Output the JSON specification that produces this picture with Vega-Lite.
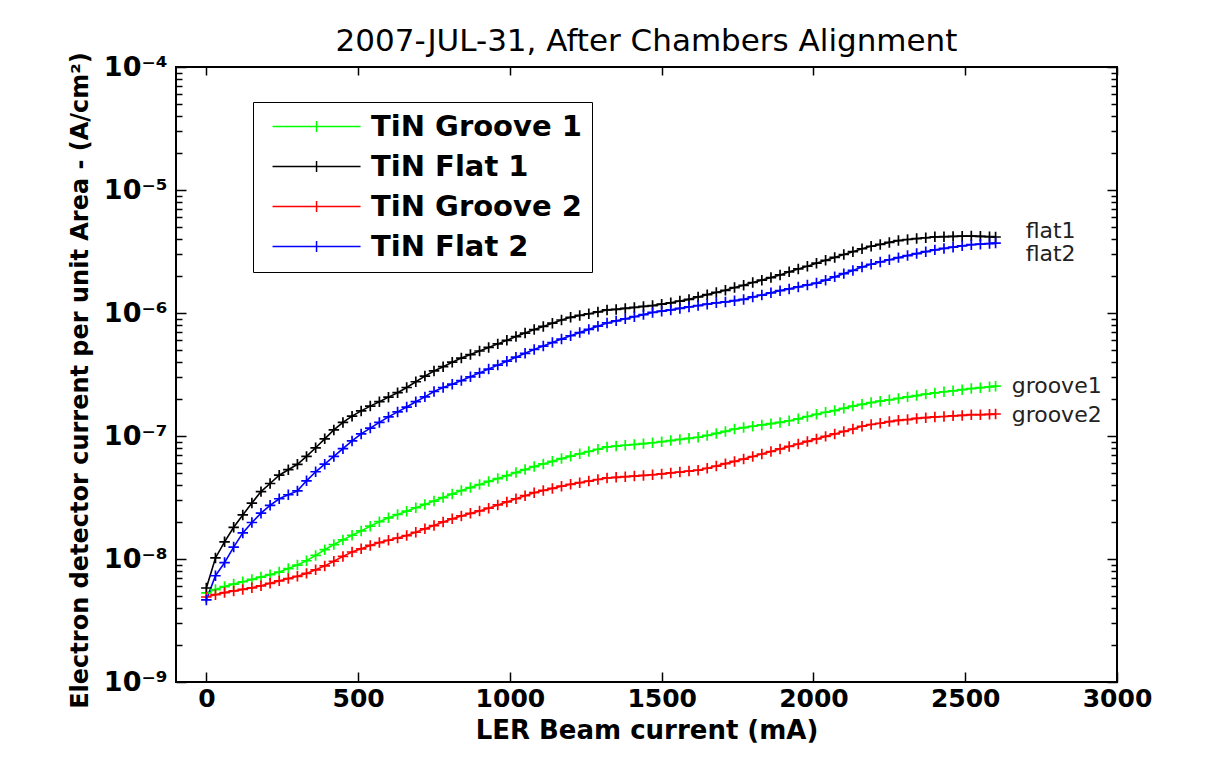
{
  "$schema": "https://vega.github.io/schema/vega-lite/v6.json",
  "width": 941,
  "height": 615,
  "autosize": {"type": "none"},
  "padding": {"left": 176, "top": 67, "right": 114, "bottom": 75},
  "background": "white",
  "title": {
    "text": "2007-JUL-31, After Chambers Alignment",
    "font": "DejaVu Sans",
    "fontSize": 31,
    "fontWeight": "normal",
    "color": "black",
    "anchor": "middle",
    "offset": -6
  },
  "datasets": {
    "curves": [
      {"x": 0, "g1": 5.30e-9, "f1": 5.81e-9, "g2": 4.91e-9, "f2": 4.65e-9},
      {"x": 30, "g1": 5.64e-9, "f1": 1.02e-8, "g2": 5.13e-9, "f2": 7.31e-9},
      {"x": 60, "g1": 5.97e-9, "f1": 1.38e-8, "g2": 5.33e-9, "f2": 9.35e-9},
      {"x": 90, "g1": 6.25e-9, "f1": 1.81e-8, "g2": 5.50e-9, "f2": 1.25e-8},
      {"x": 120, "g1": 6.53e-9, "f1": 2.28e-8, "g2": 5.66e-9, "f2": 1.63e-8},
      {"x": 150, "g1": 6.82e-9, "f1": 2.85e-8, "g2": 5.83e-9, "f2": 1.98e-8},
      {"x": 180, "g1": 7.13e-9, "f1": 3.53e-8, "g2": 6.05e-9, "f2": 2.36e-8},
      {"x": 210, "g1": 7.46e-9, "f1": 4.11e-8, "g2": 6.34e-9, "f2": 2.73e-8},
      {"x": 240, "g1": 7.83e-9, "f1": 4.80e-8, "g2": 6.64e-9, "f2": 3.09e-8},
      {"x": 270, "g1": 8.36e-9, "f1": 5.32e-8, "g2": 6.93e-9, "f2": 3.33e-8},
      {"x": 300, "g1": 8.93e-9, "f1": 5.89e-8, "g2": 7.23e-9, "f2": 3.58e-8},
      {"x": 330, "g1": 9.68e-9, "f1": 6.82e-8, "g2": 7.64e-9, "f2": 4.32e-8},
      {"x": 360, "g1": 1.07e-8, "f1": 8.02e-8, "g2": 8.17e-9, "f2": 5.12e-8},
      {"x": 390, "g1": 1.19e-8, "f1": 9.48e-8, "g2": 8.79e-9, "f2": 5.90e-8},
      {"x": 420, "g1": 1.31e-8, "f1": 1.12e-7, "g2": 9.59e-9, "f2": 6.82e-8},
      {"x": 450, "g1": 1.43e-8, "f1": 1.29e-7, "g2": 1.05e-8, "f2": 7.89e-8},
      {"x": 480, "g1": 1.56e-8, "f1": 1.45e-7, "g2": 1.14e-8, "f2": 9.12e-8},
      {"x": 510, "g1": 1.69e-8, "f1": 1.60e-7, "g2": 1.21e-8, "f2": 1.04e-7},
      {"x": 540, "g1": 1.85e-8, "f1": 1.75e-7, "g2": 1.29e-8, "f2": 1.16e-7},
      {"x": 570, "g1": 2.01e-8, "f1": 1.90e-7, "g2": 1.36e-8, "f2": 1.29e-7},
      {"x": 600, "g1": 2.16e-8, "f1": 2.07e-7, "g2": 1.42e-8, "f2": 1.43e-7},
      {"x": 630, "g1": 2.30e-8, "f1": 2.25e-7, "g2": 1.48e-8, "f2": 1.57e-7},
      {"x": 660, "g1": 2.45e-8, "f1": 2.48e-7, "g2": 1.55e-8, "f2": 1.72e-7},
      {"x": 690, "g1": 2.61e-8, "f1": 2.76e-7, "g2": 1.65e-8, "f2": 1.90e-7},
      {"x": 720, "g1": 2.78e-8, "f1": 3.07e-7, "g2": 1.76e-8, "f2": 2.08e-7},
      {"x": 750, "g1": 2.96e-8, "f1": 3.38e-7, "g2": 1.87e-8, "f2": 2.30e-7},
      {"x": 780, "g1": 3.16e-8, "f1": 3.66e-7, "g2": 2.00e-8, "f2": 2.48e-7},
      {"x": 810, "g1": 3.37e-8, "f1": 3.98e-7, "g2": 2.12e-8, "f2": 2.64e-7},
      {"x": 840, "g1": 3.60e-8, "f1": 4.30e-7, "g2": 2.24e-8, "f2": 2.82e-7},
      {"x": 870, "g1": 3.81e-8, "f1": 4.59e-7, "g2": 2.35e-8, "f2": 3.03e-7},
      {"x": 900, "g1": 4.03e-8, "f1": 4.91e-7, "g2": 2.46e-8, "f2": 3.26e-7},
      {"x": 930, "g1": 4.27e-8, "f1": 5.25e-7, "g2": 2.59e-8, "f2": 3.50e-7},
      {"x": 960, "g1": 4.51e-8, "f1": 5.61e-7, "g2": 2.75e-8, "f2": 3.77e-7},
      {"x": 990, "g1": 4.76e-8, "f1": 6.00e-7, "g2": 2.91e-8, "f2": 4.06e-7},
      {"x": 1020, "g1": 5.04e-8, "f1": 6.43e-7, "g2": 3.09e-8, "f2": 4.37e-7},
      {"x": 1050, "g1": 5.33e-8, "f1": 6.87e-7, "g2": 3.27e-8, "f2": 4.70e-7},
      {"x": 1080, "g1": 5.64e-8, "f1": 7.33e-7, "g2": 3.46e-8, "f2": 5.05e-7},
      {"x": 1110, "g1": 5.93e-8, "f1": 7.78e-7, "g2": 3.61e-8, "f2": 5.38e-7},
      {"x": 1140, "g1": 6.22e-8, "f1": 8.26e-7, "g2": 3.75e-8, "f2": 5.75e-7},
      {"x": 1170, "g1": 6.55e-8, "f1": 8.77e-7, "g2": 3.91e-8, "f2": 6.14e-7},
      {"x": 1200, "g1": 6.85e-8, "f1": 9.23e-7, "g2": 4.05e-8, "f2": 6.53e-7},
      {"x": 1230, "g1": 7.16e-8, "f1": 9.55e-7, "g2": 4.17e-8, "f2": 6.93e-7},
      {"x": 1260, "g1": 7.48e-8, "f1": 9.86e-7, "g2": 4.30e-8, "f2": 7.36e-7},
      {"x": 1290, "g1": 7.80e-8, "f1": 1.02e-6, "g2": 4.43e-8, "f2": 7.82e-7},
      {"x": 1320, "g1": 8.15e-8, "f1": 1.06e-6, "g2": 4.56e-8, "f2": 8.30e-7},
      {"x": 1350, "g1": 8.28e-8, "f1": 1.07e-6, "g2": 4.61e-8, "f2": 8.63e-7},
      {"x": 1380, "g1": 8.41e-8, "f1": 1.09e-6, "g2": 4.67e-8, "f2": 8.97e-7},
      {"x": 1410, "g1": 8.53e-8, "f1": 1.11e-6, "g2": 4.72e-8, "f2": 9.33e-7},
      {"x": 1440, "g1": 8.67e-8, "f1": 1.13e-6, "g2": 4.78e-8, "f2": 9.70e-7},
      {"x": 1470, "g1": 8.81e-8, "f1": 1.15e-6, "g2": 4.84e-8, "f2": 1.01e-6},
      {"x": 1500, "g1": 8.99e-8, "f1": 1.18e-6, "g2": 4.92e-8, "f2": 1.035e-6},
      {"x": 1530, "g1": 9.18e-8, "f1": 1.21e-6, "g2": 5.01e-8, "f2": 1.06e-6},
      {"x": 1560, "g1": 9.38e-8, "f1": 1.25e-6, "g2": 5.09e-8, "f2": 1.09e-6},
      {"x": 1590, "g1": 9.57e-8, "f1": 1.29e-6, "g2": 5.19e-8, "f2": 1.12e-6},
      {"x": 1620, "g1": 9.77e-8, "f1": 1.35e-6, "g2": 5.27e-8, "f2": 1.15e-6},
      {"x": 1650, "g1": 1.01e-7, "f1": 1.41e-6, "g2": 5.47e-8, "f2": 1.18e-6},
      {"x": 1680, "g1": 1.05e-7, "f1": 1.47e-6, "g2": 5.70e-8, "f2": 1.21e-6},
      {"x": 1710, "g1": 1.09e-7, "f1": 1.53e-6, "g2": 5.96e-8, "f2": 1.23e-6},
      {"x": 1740, "g1": 1.14e-7, "f1": 1.61e-6, "g2": 6.21e-8, "f2": 1.26e-6},
      {"x": 1770, "g1": 1.17e-7, "f1": 1.68e-6, "g2": 6.49e-8, "f2": 1.29e-6},
      {"x": 1800, "g1": 1.20e-7, "f1": 1.77e-6, "g2": 6.81e-8, "f2": 1.35e-6},
      {"x": 1830, "g1": 1.23e-7, "f1": 1.85e-6, "g2": 7.14e-8, "f2": 1.40e-6},
      {"x": 1860, "g1": 1.26e-7, "f1": 1.94e-6, "g2": 7.48e-8, "f2": 1.46e-6},
      {"x": 1890, "g1": 1.29e-7, "f1": 2.04e-6, "g2": 7.85e-8, "f2": 1.52e-6},
      {"x": 1920, "g1": 1.33e-7, "f1": 2.16e-6, "g2": 8.22e-8, "f2": 1.57e-6},
      {"x": 1950, "g1": 1.38e-7, "f1": 2.28e-6, "g2": 8.61e-8, "f2": 1.63e-6},
      {"x": 1980, "g1": 1.44e-7, "f1": 2.40e-6, "g2": 9.04e-8, "f2": 1.69e-6},
      {"x": 2010, "g1": 1.50e-7, "f1": 2.54e-6, "g2": 9.46e-8, "f2": 1.75e-6},
      {"x": 2040, "g1": 1.56e-7, "f1": 2.68e-6, "g2": 9.93e-8, "f2": 1.85e-6},
      {"x": 2070, "g1": 1.61e-7, "f1": 2.83e-6, "g2": 1.04e-7, "f2": 1.97e-6},
      {"x": 2100, "g1": 1.68e-7, "f1": 2.99e-6, "g2": 1.09e-7, "f2": 2.09e-6},
      {"x": 2130, "g1": 1.75e-7, "f1": 3.15e-6, "g2": 1.14e-7, "f2": 2.22e-6},
      {"x": 2160, "g1": 1.81e-7, "f1": 3.33e-6, "g2": 1.20e-7, "f2": 2.37e-6},
      {"x": 2190, "g1": 1.87e-7, "f1": 3.49e-6, "g2": 1.24e-7, "f2": 2.49e-6},
      {"x": 2220, "g1": 1.92e-7, "f1": 3.61e-6, "g2": 1.27e-7, "f2": 2.60e-6},
      {"x": 2250, "g1": 1.97e-7, "f1": 3.75e-6, "g2": 1.31e-7, "f2": 2.71e-6},
      {"x": 2280, "g1": 2.02e-7, "f1": 3.88e-6, "g2": 1.34e-7, "f2": 2.82e-6},
      {"x": 2310, "g1": 2.08e-7, "f1": 3.96e-6, "g2": 1.36e-7, "f2": 2.93e-6},
      {"x": 2340, "g1": 2.13e-7, "f1": 4.03e-6, "g2": 1.39e-7, "f2": 3.04e-6},
      {"x": 2370, "g1": 2.19e-7, "f1": 4.09e-6, "g2": 1.41e-7, "f2": 3.15e-6},
      {"x": 2400, "g1": 2.24e-7, "f1": 4.16e-6, "g2": 1.43e-7, "f2": 3.26e-6},
      {"x": 2430, "g1": 2.29e-7, "f1": 4.17e-6, "g2": 1.44e-7, "f2": 3.35e-6},
      {"x": 2460, "g1": 2.33e-7, "f1": 4.19e-6, "g2": 1.46e-7, "f2": 3.43e-6},
      {"x": 2490, "g1": 2.38e-7, "f1": 4.21e-6, "g2": 1.47e-7, "f2": 3.52e-6},
      {"x": 2520, "g1": 2.43e-7, "f1": 4.22e-6, "g2": 1.49e-7, "f2": 3.59e-6},
      {"x": 2550, "g1": 2.47e-7, "f1": 4.20e-6, "g2": 1.49e-7, "f2": 3.63e-6},
      {"x": 2580, "g1": 2.51e-7, "f1": 4.17e-6, "g2": 1.50e-7, "f2": 3.67e-6},
      {"x": 2600, "g1": 2.54e-7, "f1": 4.15e-6, "g2": 1.51e-7, "f2": 3.70e-6}
    ],
    "flatTags": [
      {"tag": "flat1", "x": 2699, "v": 4.65e-6},
      {"tag": "flat2", "x": 2699, "v": 3.02e-6}
    ],
    "grooveTags": [
      {"tag": "groove1", "x": 2653, "v": 2.55e-7},
      {"tag": "groove2", "x": 2653, "v": 1.48e-7}
    ]
  },
  "layer": [
    {
      "data": {"name": "curves"},
      "transform": [{"fold": ["g1", "f1", "g2", "f2"], "as": ["series", "value"]}],
      "mark": {"type": "line", "strokeWidth": 1.6, "clip": true},
      "encoding": {
        "x": {
          "field": "x",
          "type": "quantitative",
          "scale": {"domain": [-100, 3000], "nice": false, "zero": false},
          "axis": {
            "orient": "bottom",
            "title": "LER Beam current (mA)",
            "values": [0, 500, 1000, 1500, 2000, 2500, 3000],
            "format": "d",
            "tickSize": -10,
            "labelPadding": 14,
            "labelFontSize": 25,
            "labelFlush": false,
            "labelOverlap": false,
            "titleY": 48,
            "titleFontSize": 26,
            "titleBaseline": "middle"
          }
        },
        "y": {
          "field": "value",
          "type": "quantitative",
          "scale": {"type": "log", "domain": [1e-9, 1e-4], "nice": false},
          "axis": {
            "orient": "left",
            "title": "Electron detector current per unit Area - (A/cm²)",
            "values": [1e-9, 1e-8, 1e-7, 1e-6, 1e-5, 1e-4],
            "labelExpr": "'10' + ['⁻⁹','⁻⁸','⁻⁷','⁻⁶','⁻⁵','⁻⁴'][round(log(datum.value)/LN10)+9]",
            "tickSize": -10,
            "labelPadding": 19,
            "labelOverlap": false,
            "labelFlush": false,
            "titleX": -96,
            "titleY": 313,
            "titleAngle": -90,
            "titleAlign": "center",
            "titleBaseline": "middle",
            "titleFontSize": 24
          }
        },
        "color": {
          "field": "series",
          "type": "nominal",
          "scale": {"domain": ["g1", "f1", "g2", "f2"], "range": ["#00ff00", "#000000", "#ff0000", "#0000ff"]},
          "legend": {
            "orient": "none",
            "legendX": 77,
            "legendY": 35,
            "title": null,
            "labelExpr": "datum.value == 'g1' ? 'TiN Groove 1' : datum.value == 'f1' ? 'TiN Flat 1' : datum.value == 'g2' ? 'TiN Groove 2' : 'TiN Flat 2'",
            "symbolType": "M-0.45,0L7.55,0M3.55,-0.5L3.55,0.5",
            "symbolSize": 484,
            "symbolStrokeWidth": 1.5,
            "symbolFillColor": "transparent",
            "labelFont": "DejaVu Sans",
            "labelFontWeight": "bold",
            "labelFontSize": 29,
            "labelColor": "black",
            "labelOffset": 79,
            "labelLimit": 400,
            "padding": 10,
            "rowPadding": 10,
            "strokeColor": "black",
            "fillColor": "white"
          }
        }
      }
    },
    {
      "data": {"name": "curves"},
      "transform": [{"fold": ["g1", "f1", "g2", "f2"], "as": ["series", "value"]}],
      "mark": {"type": "point", "shape": "M-1,0L1,0M0,-1L0,1", "filled": false, "size": 110, "strokeWidth": 1.7, "opacity": 1, "clip": true},
      "encoding": {
        "x": {
          "field": "x",
          "type": "quantitative",
          "axis": {"orient": "top", "title": null, "labels": false, "values": [0, 500, 1000, 1500, 2000, 2500, 3000], "tickSize": -8}
        },
        "y": {
          "field": "value",
          "type": "quantitative",
          "axis": {"orient": "right", "title": null, "labels": false, "values": [1e-9, 1e-8, 1e-7, 1e-6, 1e-5, 1e-4], "tickSize": -10}
        },
        "color": {"field": "series", "type": "nominal"}
      }
    },
    {
      "data": {"name": "flatTags"},
      "mark": {"type": "text", "align": "left", "baseline": "middle", "font": "DejaVu Sans", "fontSize": 22, "color": "#222222"},
      "encoding": {
        "x": {"field": "x", "type": "quantitative", "axis": null},
        "y": {
          "field": "v",
          "type": "quantitative",
          "axis": {
            "orient": "left",
            "title": null,
            "labels": false,
            "tickSize": -6,
            "values": [2e-9, 3e-9, 4e-9, 5e-9, 6e-9, 7e-9, 8e-9, 9e-9, 2e-8, 3e-8, 4e-8, 5e-8, 6e-8, 7e-8, 8e-8, 9e-8, 2e-7, 3e-7, 4e-7, 5e-7, 6e-7, 7e-7, 8e-7, 9e-7, 2e-6, 3e-6, 4e-6, 5e-6, 6e-6, 7e-6, 8e-6, 9e-6, 2e-5, 3e-5, 4e-5, 5e-5, 6e-5, 7e-5, 8e-5, 9e-5]
          }
        },
        "text": {"field": "tag"}
      }
    },
    {
      "data": {"name": "grooveTags"},
      "mark": {"type": "text", "align": "left", "baseline": "middle", "font": "DejaVu Sans", "fontSize": 22, "color": "#222222"},
      "encoding": {
        "x": {"field": "x", "type": "quantitative", "axis": null},
        "y": {
          "field": "v",
          "type": "quantitative",
          "axis": {
            "orient": "right",
            "title": null,
            "labels": false,
            "tickSize": -6,
            "values": [2e-9, 3e-9, 4e-9, 5e-9, 6e-9, 7e-9, 8e-9, 9e-9, 2e-8, 3e-8, 4e-8, 5e-8, 6e-8, 7e-8, 8e-8, 9e-8, 2e-7, 3e-7, 4e-7, 5e-7, 6e-7, 7e-7, 8e-7, 9e-7, 2e-6, 3e-6, 4e-6, 5e-6, 6e-6, 7e-6, 8e-6, 9e-6, 2e-5, 3e-5, 4e-5, 5e-5, 6e-5, 7e-5, 8e-5, 9e-5]
          }
        },
        "text": {"field": "tag"}
      }
    }
  ],
  "resolve": {"axis": {"x": "independent", "y": "independent"}},
  "config": {
    "view": {"stroke": "black", "strokeWidth": 2},
    "axis": {
      "grid": false,
      "domain": false,
      "ticks": true,
      "tickColor": "black",
      "tickWidth": 1.5,
      "labelFont": "DejaVu Sans",
      "labelFontSize": 27,
      "labelFontWeight": "bold",
      "labelColor": "black",
      "titleFont": "DejaVu Sans",
      "titleFontSize": 27,
      "titleFontWeight": "bold",
      "titleColor": "black"
    }
  }
}
